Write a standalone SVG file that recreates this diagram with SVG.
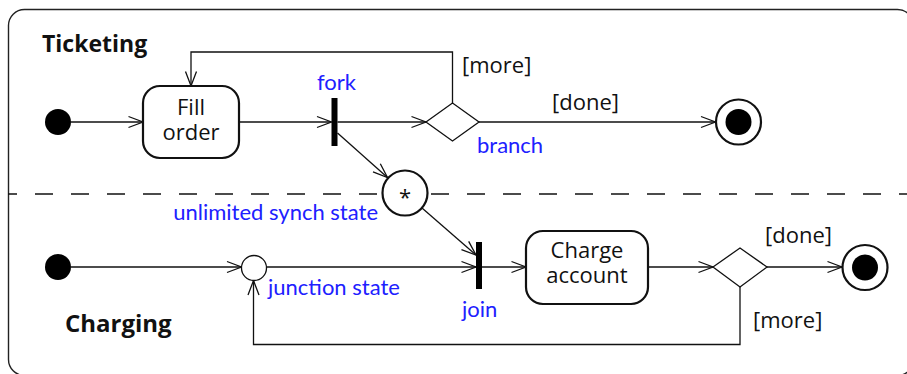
<svg xmlns="http://www.w3.org/2000/svg" width="907" height="374" viewBox="0 0 907 374">
<style>
  .ln{fill:none;stroke:#111;stroke-width:1.3}
  .st{fill:#fff;stroke:#111;stroke-width:2.2}
  .thin{fill:#fff;stroke:#111;stroke-width:1.3}
  .dot{fill:#000}
  .bar{fill:#000}
  .t{font-family:"Open Sans","Liberation Sans",sans-serif;font-size:22px;fill:#111}
  .h{font-family:"Open Sans","Liberation Sans",sans-serif;font-weight:bold;fill:#111}
  .b{font-family:Lato,"Liberation Sans",sans-serif;font-size:22px;fill:#2020ff}
</style>
<defs>
  <marker id="a" viewBox="0 0 15 12" refX="14.5" refY="6" markerWidth="15" markerHeight="12" markerUnits="userSpaceOnUse" orient="auto" overflow="visible">
    <path d="M0,0.5 L14.5,6 L0,11.5" fill="none" stroke="#111" stroke-width="1.3"/>
  </marker>
</defs>
<rect x="8.5" y="9.5" width="905" height="366" rx="16" fill="#fff" stroke="#222" stroke-width="1.4"/>
<line x1="8" y1="194" x2="907" y2="194" stroke="#111" stroke-width="1.3" stroke-dasharray="18 18" stroke-dashoffset="9"/>
<g id="connectors">
  <path class="ln" d="M71,122 H143" marker-end="url(#a)"/>
  <path class="ln" d="M239,122 H331.5" marker-end="url(#a)"/>
  <path class="ln" d="M337.5,122 H426" marker-end="url(#a)"/>
  <path class="ln" d="M479,122 H715.5" marker-end="url(#a)"/>
  <path class="ln" d="M452.5,103 V52 H191 V86" marker-end="url(#a)"/>
  <path class="ln" d="M337.5,133 L387.5,177.5" marker-end="url(#a)"/>
  <path class="ln" d="M422,208 L476,255" marker-end="url(#a)"/>
  <path class="ln" d="M71,267 H241.5" marker-end="url(#a)"/>
  <path class="ln" d="M266.5,267 H476" marker-end="url(#a)"/>
  <path class="ln" d="M482,267 H526" marker-end="url(#a)"/>
  <path class="ln" d="M648,267 H713" marker-end="url(#a)"/>
  <path class="ln" d="M767,267 H842" marker-end="url(#a)"/>
  <path class="ln" d="M740,287 V344.5 H253.5 V280.5" marker-end="url(#a)"/>
</g>
<text class="h" x="42" y="52" font-size="23">Ticketing</text>
<text class="h" x="65" y="332" font-size="24">Charging</text>
<g id="init1"><circle class="dot" cx="58" cy="122" r="13"/></g>
<g id="fillOrder">
  <rect class="st" x="143" y="86" width="96" height="72" rx="17"/>
  <text class="t" text-anchor="middle"><tspan x="191" y="115">Fill</tspan><tspan x="191" y="140">order</tspan></text>
</g>
<g id="fork">
  <rect class="bar" x="331.5" y="98" width="6" height="48"/>
  <text class="b" x="317" y="90">fork</text>
</g>
<g id="branch">
  <polygon class="thin" points="426,122 452.5,103 479,122 452.5,141"/>
  <text class="b" x="477" y="153">branch</text>
  <text class="t" x="462" y="73">[more]</text>
  <text class="t" x="552" y="110">[done]</text>
</g>
<g id="final1">
  <circle class="st" cx="738.5" cy="122" r="22.5"/>
  <circle class="dot" cx="738.5" cy="122" r="13"/>
</g>
<g id="synch">
  <circle class="st" cx="405" cy="193" r="22.5"/>
  <text class="t" x="405" y="205" text-anchor="middle">*</text>
  <text class="b" x="378" y="220" text-anchor="end">unlimited synch state</text>
</g>
<g id="init2"><circle class="dot" cx="58" cy="267" r="13"/></g>
<g id="junction">
  <circle class="thin" cx="254" cy="268" r="12.5"/>
  <text class="b" x="268" y="295">junction state</text>
</g>
<g id="join">
  <rect class="bar" x="476" y="242" width="6" height="47"/>
  <text class="b" x="462" y="317">join</text>
</g>
<g id="chargeAccount">
  <rect class="st" x="526" y="231" width="122" height="73" rx="17"/>
  <text class="t" text-anchor="middle"><tspan x="587" y="258">Charge</tspan><tspan x="587" y="283">account</tspan></text>
</g>
<g id="branch2">
  <polygon class="thin" points="713,267 740,248 767,267 740,287"/>
  <text class="t" x="765" y="243">[done]</text>
  <text class="t" x="753" y="328">[more]</text>
</g>
<g id="final2">
  <circle class="st" cx="865" cy="267.5" r="22.5"/>
  <circle class="dot" cx="865" cy="267.5" r="13"/>
</g>
</svg>
